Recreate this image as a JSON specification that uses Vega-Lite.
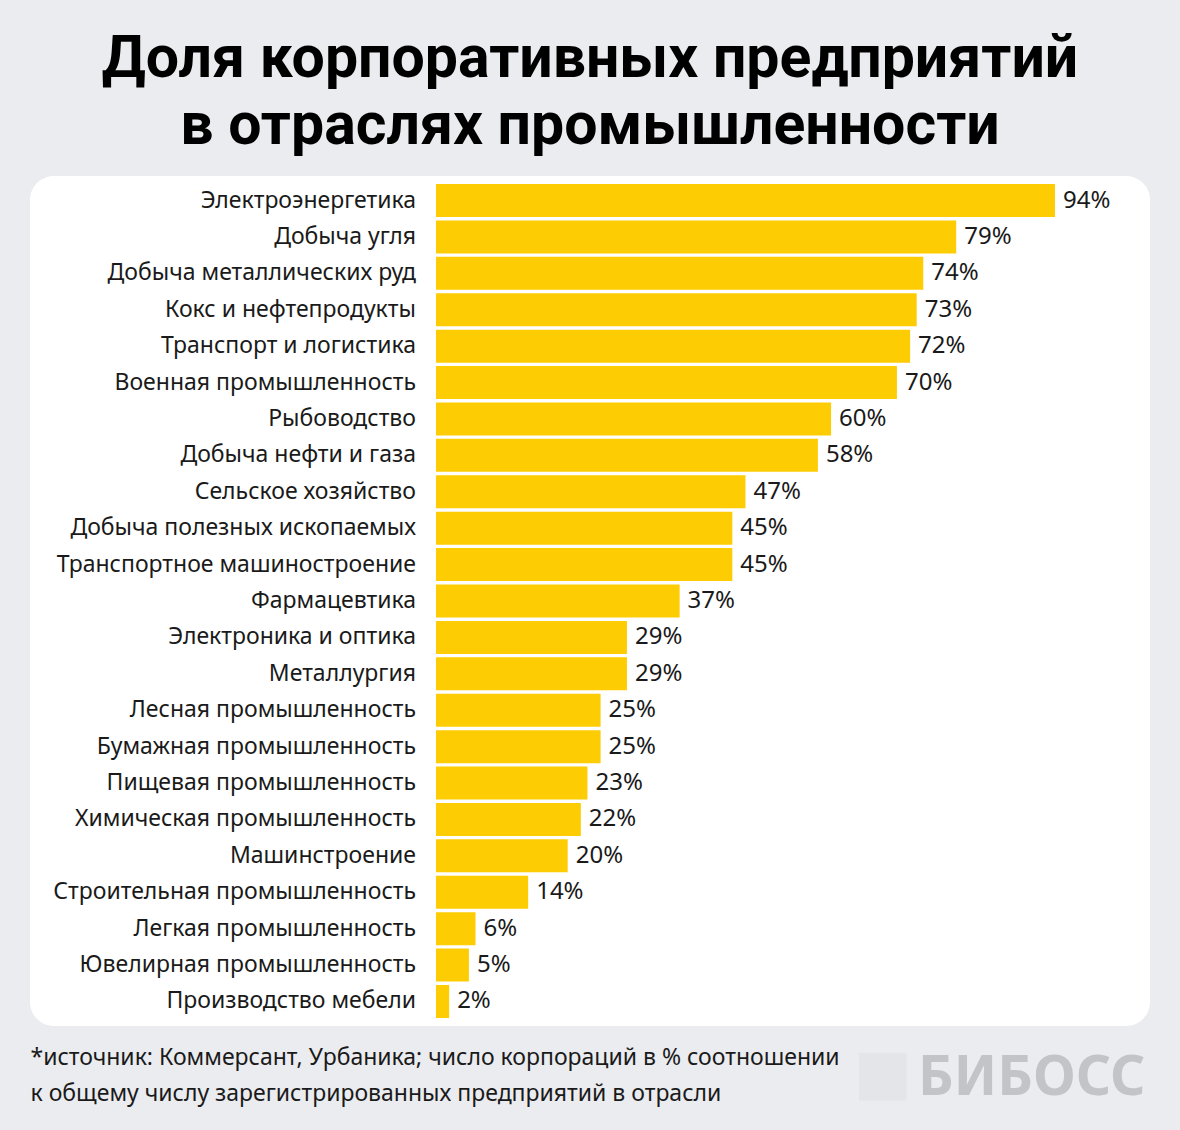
{
  "$schema": "https://vega.github.io/schema/vega-lite/v6.json",
  "autosize": {"type": "none"},
  "width": 1120,
  "height": 850,
  "padding": {"left": 30, "top": 176, "right": 30, "bottom": 104},
  "background": "#ebecf0",
  "title": {
    "text": ["Доля корпоративных предприятий", "в отраслях промышленности"],
    "anchor": "middle",
    "frame": "group",
    "font": "Roboto",
    "fontSize": 59,
    "fontWeight": "bold",
    "color": "#000000",
    "lineHeight": 67,
    "offset": 20
  },
  "data": {
    "values": [
      {"sector": "Электроэнергетика", "share": 0.94},
      {"sector": "Добыча угля", "share": 0.79},
      {"sector": "Добыча металлических руд", "share": 0.74},
      {"sector": "Кокс и нефтепродукты", "share": 0.73},
      {"sector": "Транспорт и логистика", "share": 0.72},
      {"sector": "Военная промышленность", "share": 0.70},
      {"sector": "Рыбоводство", "share": 0.60},
      {"sector": "Добыча нефти и газа", "share": 0.58},
      {"sector": "Сельское хозяйство", "share": 0.47},
      {"sector": "Добыча полезных ископаемых", "share": 0.45},
      {"sector": "Транспортное машиностроение", "share": 0.45},
      {"sector": "Фармацевтика", "share": 0.37},
      {"sector": "Электроника и оптика", "share": 0.29},
      {"sector": "Металлургия", "share": 0.29},
      {"sector": "Лесная промышленность", "share": 0.25},
      {"sector": "Бумажная промышленность", "share": 0.25},
      {"sector": "Пищевая промышленность", "share": 0.23},
      {"sector": "Химическая промышленность", "share": 0.22},
      {"sector": "Машинстроение", "share": 0.20},
      {"sector": "Строительная промышленность", "share": 0.14},
      {"sector": "Легкая промышленность", "share": 0.06},
      {"sector": "Ювелирная промышленность", "share": 0.05},
      {"sector": "Производство мебели", "share": 0.02}
    ]
  },
  "encoding": {
    "y": {
      "field": "sector",
      "type": "nominal",
      "sort": null,
      "scale": {"paddingInner": 0.094, "paddingOuter": 0.22}
    },
    "x": {
      "field": "share",
      "type": "quantitative",
      "scale": {"domain": [-0.6165, 1.0843], "nice": false, "zero": false},
      "axis": {
        "domain": false, "ticks": false, "labels": false, "grid": false,
        "title": ["*источник: Коммерсант, Урбаника; число корпораций в % соотношении", "к общему числу зарегистрированных предприятий в отрасли"],
        "titleAnchor": "start",
        "titleAlign": "left",
        "titleBaseline": "top",
        "titlePadding": 20,
        "titleFont": "Noto Sans",
        "titleFontSize": 23,
        "titleFontWeight": "normal",
        "titleColor": "#1a1a1a",
        "titleLineHeight": 36
      }
    }
  },
  "layer": [
    {
      "mark": {"type": "bar", "color": "#fecc02"},
      "encoding": {
        "y": {
          "field": "sector", "type": "nominal", "sort": null,
          "axis": {
            "orient": "left", "domain": false, "ticks": false, "labels": false, "grid": false,
            "title": "■", "titleAngle": 0, "titleAlign": "left", "titleBaseline": "middle",
            "titleX": 823, "titleY": 897, "titleFont": "DejaVu Sans", "titleFontSize": 62,
            "titleFontWeight": "normal", "titleColor": "#e4e5e9"
          }
        }
      }
    },
    {
      "mark": {"type": "text", "align": "left", "baseline": "middle", "dx": 8, "font": "Noto Sans", "fontSize": 24, "color": "#1a1a1a"},
      "encoding": {
        "text": {"field": "share", "type": "quantitative", "format": ".0%"},
        "y": {
          "field": "sector", "type": "nominal", "sort": null,
          "axis": {
            "orient": "right", "domain": false, "ticks": false, "labels": false, "grid": false,
            "title": "БИБОСС", "titleAngle": 0, "titleAlign": "right", "titleBaseline": "middle",
            "titleX": -5, "titleY": 901, "titleFont": "Noto Sans", "titleFontSize": 55,
            "titleFontWeight": "bold", "titleColor": "#c3c4c8"
          }
        }
      }
    },
    {
      "mark": {"type": "text", "align": "right", "baseline": "middle", "dx": -20, "font": "Noto Sans", "fontSize": 23, "color": "#1a1a1a"},
      "encoding": {
        "x": {"datum": 0},
        "text": {"field": "sector", "type": "nominal"},
        "y": {"field": "sector", "type": "nominal", "sort": null, "axis": null}
      }
    }
  ],
  "resolve": {"axis": {"y": "independent"}},
  "config": {
    "view": {"fill": "#ffffff", "cornerRadius": 24, "stroke": null}
  }
}
